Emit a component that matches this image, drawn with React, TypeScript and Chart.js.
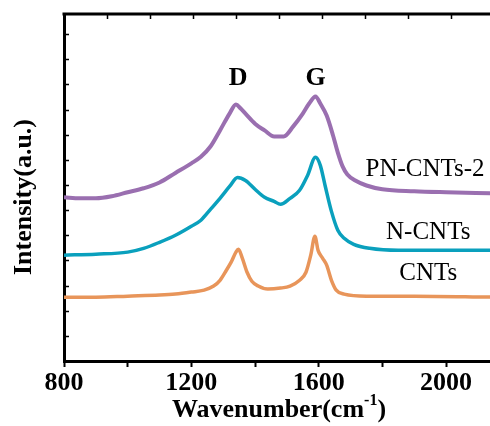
import React, { useEffect, useRef } from "react";
import { Chart, registerables } from "chart.js";

Chart.register(...registerables);

// Wavenumber (cm^-1) and intensity (a.u., offset stacked)
const pnWave = [800, 850, 900, 950, 1000, 1050, 1100, 1150, 1200, 1230, 1260, 1290, 1320, 1340, 1355, 1370, 1400, 1430, 1460, 1490, 1520, 1550, 1570, 1590, 1605, 1625, 1645, 1660, 1675, 1690, 1715, 1750, 1800, 1900, 2000, 2140];
const pnVal = [6.51, 6.47, 6.47, 6.55, 6.71, 6.87, 7.1, 7.48, 7.86, 8.12, 8.53, 9.17, 9.84, 10.2, 10.04, 9.84, 9.44, 9.17, 8.93, 8.93, 9.33, 9.84, 10.24, 10.52, 10.24, 9.76, 8.97, 8.29, 7.74, 7.42, 7.18, 6.98, 6.83, 6.75, 6.71, 6.67];

const nWave = [800, 900, 1000, 1050, 1100, 1150, 1200, 1230, 1260, 1290, 1320, 1345, 1370, 1400, 1430, 1460, 1480, 1510, 1540, 1565, 1590, 1605, 1620, 1640, 1660, 1680, 1710, 1760, 1850, 2000, 2140];
const nVal = [4.21, 4.25, 4.33, 4.48, 4.72, 5.0, 5.36, 5.6, 6.03, 6.47, 6.94, 7.3, 7.18, 6.83, 6.51, 6.35, 6.23, 6.47, 6.79, 7.38, 8.1, 7.78, 6.98, 5.95, 5.2, 4.88, 4.64, 4.48, 4.4, 4.4, 4.4];

const cWave = [800, 900, 1000, 1100, 1150, 1200, 1240, 1270, 1290, 1310, 1325, 1340, 1348, 1360, 1375, 1390, 1410, 1440, 1480, 1510, 1540, 1560, 1575, 1588, 1598, 1612, 1625, 1640, 1655, 1680, 1750, 1900, 2140];
const cVal = [2.54, 2.54, 2.58, 2.62, 2.66, 2.74, 2.82, 2.98, 3.21, 3.61, 3.93, 4.33, 4.44, 4.09, 3.53, 3.17, 2.98, 2.86, 2.9, 2.98, 3.21, 3.53, 4.21, 4.96, 4.4, 4.09, 3.81, 3.21, 2.82, 2.66, 2.58, 2.58, 2.54];

const seriesNames = ["PN-CNTs-2", "N-CNTs", "CNTs"];
const seriesColors = ["#9a6fb0", "#0aa0bd", "#e8955a"];
const seriesWidths = [4, 3.5, 3.5];
// label anchor positions (wavenumber, intensity)
const seriesLabelX = [1934, 1944, 1944];
const seriesLabelY = [7.6, 5.13, 3.5];
const peakNames = ["D", "G"];
const peakX = [1347, 1590];
const peakY = [11.25, 11.25];
const topTickValues = [935, 1070, 1205, 1340, 1475, 1610, 1745, 1880, 2015];
const X_MIN = 800;
const X_MAX = 2138;
const Y_MAX = 13.8;

const SERIF = "'Liberation Serif', 'Times New Roman', serif";

const decor = {
  id: "decor",
  afterDraw(chart: any) {
    const { ctx, chartArea, scales } = chart;
    const { left, top, right } = chartArea;
    const x = scales.x;
    const y = scales.y;
    ctx.save();
    ctx.strokeStyle = "#000";
    ctx.lineWidth = 3;
    ctx.beginPath();
    ctx.moveTo(left - 1.5, top);
    ctx.lineTo(right, top);
    ctx.stroke();
    ctx.lineWidth = 1.5;
    ctx.beginPath();
    topTickValues.forEach((v) => {
      const px = Math.round(x.getPixelForValue(v)) + 0.5;
      ctx.moveTo(px, top);
      ctx.lineTo(px, top + 5);
    });
    for (let v = 1; v < Y_MAX; v++) {
      const py = Math.round(y.getPixelForValue(v)) + 0.5;
      ctx.moveTo(left, py);
      ctx.lineTo(left + 5, py);
    }
    ctx.stroke();

    ctx.fillStyle = "#000";
    ctx.textAlign = "center";
    ctx.textBaseline = "middle";
    ctx.font = `bold 26px ${SERIF}`;
    peakNames.forEach((n, i) => {
      ctx.fillText(n, x.getPixelForValue(peakX[i]), y.getPixelForValue(peakY[i]));
    });
    ctx.font = `25px ${SERIF}`;
    seriesNames.forEach((n, i) => {
      ctx.fillText(n, x.getPixelForValue(seriesLabelX[i]), y.getPixelForValue(seriesLabelY[i]));
    });

    // x axis title with superscript
    const cx = 279;
    const cy = 410;
    ctx.font = `bold 26px ${SERIF}`;
    const a = "Wavenumber(cm";
    const c = ")";
    const wa = ctx.measureText(a).width;
    const wc = ctx.measureText(c).width;
    ctx.font = `bold 16px ${SERIF}`;
    const b = "-1";
    const wb = ctx.measureText(b).width;
    const total = wa + wb + wc;
    const sx = cx - total / 2;
    ctx.textAlign = "left";
    ctx.font = `bold 26px ${SERIF}`;
    ctx.fillText(a, sx, cy);
    ctx.font = `bold 16px ${SERIF}`;
    ctx.fillText(b, sx + wa, cy - 9);
    ctx.font = `bold 26px ${SERIF}`;
    ctx.fillText(c, sx + wa + wb, cy);

    // y axis title
    ctx.translate(24, 197);
    ctx.rotate(-Math.PI / 2);
    ctx.textAlign = "center";
    ctx.fillText("Intensity(a.u.)", 0, 0);
    ctx.restore();
  },
};

export default function App() {
  const ref = useRef<HTMLCanvasElement>(null);
  useEffect(() => {
    if (!ref.current) return;
    const mk = (w: number[], v: number[]) => w.map((xx, i) => ({ x: xx, y: v[i] }));
    const chart = new Chart(ref.current, {
      type: "line",
      data: {
        datasets: [
          { label: seriesNames[0], data: mk(pnWave, pnVal), borderColor: seriesColors[0], borderWidth: seriesWidths[0] },
          { label: seriesNames[1], data: mk(nWave, nVal), borderColor: seriesColors[1], borderWidth: seriesWidths[1] },
          { label: seriesNames[2], data: mk(cWave, cVal), borderColor: seriesColors[2], borderWidth: seriesWidths[2] },
        ].map((d) => ({
          ...d,
          pointRadius: 0,
          fill: false,
          cubicInterpolationMode: "monotone" as const,
        })),
      },
      options: {
        responsive: false,
        animation: false,
        layout: { padding: { top: 14, left: 0, right: 0, bottom: 0 } },
        plugins: { legend: { display: false }, tooltip: { enabled: false } },
        scales: {
          x: {
            type: "linear",
            min: X_MIN,
            max: X_MAX,
            grid: { display: true, drawOnChartArea: false, drawTicks: true, tickLength: 6, tickWidth: 2, color: "#000" },
            border: { display: true, width: 3, color: "#000" },
            ticks: {
              stepSize: 200,
              includeBounds: false,
              autoSkip: false,
              maxRotation: 0,
              padding: 1,
              color: "#000",
              font: { family: SERIF, size: 26, weight: "bold" },
              callback: (v: any) => (Number(v) % 400 === 0 ? String(v) : ""),
            },
            afterFit: (s: any) => {
              s.height = 65;
            },
          },
          y: {
            type: "linear",
            min: 0,
            max: Y_MAX,
            grid: { display: false },
            border: { display: true, width: 3, color: "#000" },
            ticks: { display: false },
            afterFit: (s: any) => {
              s.width = 64;
            },
          },
        },
      },
      plugins: [decor],
    });
    return () => chart.destroy();
  }, []);
  return (
    <div style={{ position: "fixed", left: 0, top: 0, width: 490, height: 426, background: "#fff" }}>
      <canvas ref={ref} width={490} height={426} />
    </div>
  );
}
